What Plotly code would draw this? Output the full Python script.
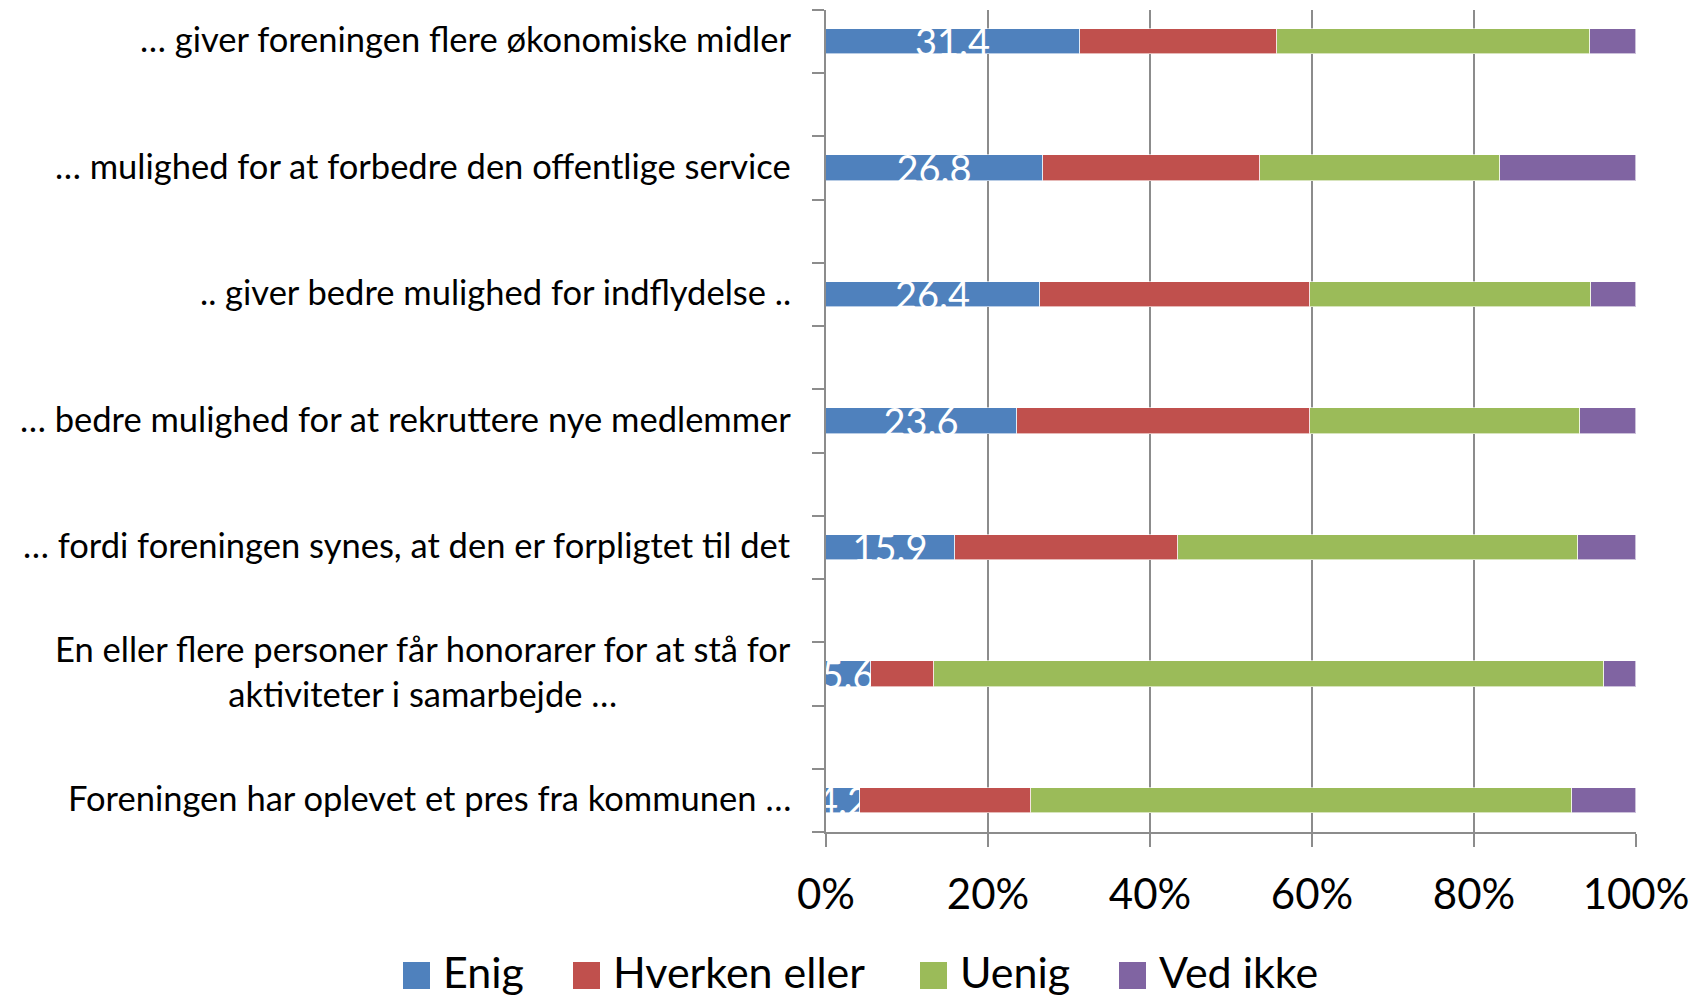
import plotly.graph_objects as go

# survey statements (top to bottom) and answer shares in percent
statements = [
    "… giver foreningen flere økonomiske midler",
    "… mulighed for at forbedre den offentlige service",
    ".. giver bedre mulighed for indflydelse ..",
    "… bedre mulighed for at rekruttere nye medlemmer",
    "… fordi foreningen synes, at den er forpligtet til det",
    "En eller flere personer får honorarer for at stå for<br>aktiviteter i samarbejde …",
    "Foreningen har oplevet et pres fra kommunen …",
]
enig = [31.4, 26.8, 26.4, 23.6, 15.9, 5.6, 4.2]
hverken = [24.3, 26.8, 33.4, 36.2, 27.5, 7.7, 21.1]
uenig = [38.6, 29.6, 34.7, 33.3, 49.5, 82.8, 66.8]
ved_ikke = [5.7, 16.8, 5.5, 6.9, 7.1, 3.9, 7.9]

series_names = ["Enig", "Hverken eller", "Uenig", "Ved ikke"]
colors = ["#4F81BD", "#C0504D", "#9BBB59", "#8064A2"]
x_ticks = [0, 20, 40, 60, 80, 100]

FONT = "Lato"
# page body has an 8px margin, so the figure is a bit smaller than the window
OFF = 8
W, H = 1705 - OFF, 998 - OFF
M_L, M_R, M_T, M_B = 826 - OFF, 69, 10 - OFF, 166
PLOT_W = W - M_L - M_R
PLOT_H = H - M_T - M_B

# every statement sits on an even slot, odd slots are empty gaps like in excel
ypos = [2 * i for i in range(len(statements))]
boundaries = [k - 0.5 for k in range(2 * len(statements))]


def px_to_paper(px, py):
    # window pixels -> paper coords
    return (px - OFF - M_L) / PLOT_W, (H - M_B - (py - OFF)) / PLOT_H


fig = go.Figure()
for name, vals, col in zip(series_names, [enig, hverken, uenig, ved_ikke], colors):
    fig.add_trace(go.Bar(
        y=ypos, x=vals, name=name, orientation="h", width=0.4,
        marker=dict(color=col, line=dict(color="rgba(255,255,255,0.6)", width=1)),
        text=[f"{v:.1f}" for v in vals] if name == "Enig" else None,
        textposition="inside" if name == "Enig" else "none",
        insidetextanchor="middle", constraintext="none", textangle=0,
        textfont=dict(family=FONT, size=38, color="white"),
        showlegend=False, hoverinfo="x+name",
    ))

# category labels, right aligned next to the axis
for y, label in zip(ypos, statements):
    fig.add_annotation(x=0, xref="paper", xshift=-33, y=y, yref="y", yshift=3,
                       text=label, showarrow=False, xanchor="right", yanchor="middle",
                       align="center", font=dict(family=FONT, size=34.5, color="black"))

# legend drawn by hand so the colour boxes get the big excel size
legend_left_px = [403, 573, 920, 1119]
for name, col, lx in zip(series_names, colors, legend_left_px):
    x0, y0 = px_to_paper(lx, 962)
    x1, y1 = px_to_paper(lx + 27, 989)
    fig.add_shape(type="rect", xref="paper", yref="paper", x0=x0, x1=x1, y0=y0, y1=y1,
                  fillcolor=col, line=dict(width=0))
    tx, ty = px_to_paper(lx + 38, 971)
    fig.add_annotation(x=tx, y=ty, xref="paper", yref="paper", text=name, showarrow=False,
                       xanchor="left", yanchor="middle",
                       font=dict(family=FONT, size=43, color="black"))

fig.update_layout(
    barmode="stack",
    width=W, height=H,
    margin=dict(l=M_L, r=M_R, t=M_T, b=M_B, pad=0),
    paper_bgcolor="white", plot_bgcolor="white",
    font=dict(family=FONT, color="black"),
    showlegend=False,
    bargap=0,
)
fig.update_xaxes(
    range=[0, 100], tickvals=x_ticks, ticktext=[f"{t}%" for t in x_ticks],
    showgrid=True, gridcolor="#8C8C8C", gridwidth=2, zeroline=False,
    showline=True, linecolor="#8C8C8C", linewidth=2,
    ticks="outside", ticklen=13, tickwidth=2, tickcolor="#8C8C8C",
    tickfont=dict(family=FONT, size=42, color="black"), ticklabelstandoff=12,
)
fig.update_yaxes(
    range=[boundaries[-1], boundaries[0]], tickvals=boundaries,
    showticklabels=False, showgrid=False, zeroline=False,
    showline=True, linecolor="#8C8C8C", linewidth=2,
    ticks="outside", ticklen=12, tickwidth=2, tickcolor="#8C8C8C",
)

fig.write_html("out.html")
